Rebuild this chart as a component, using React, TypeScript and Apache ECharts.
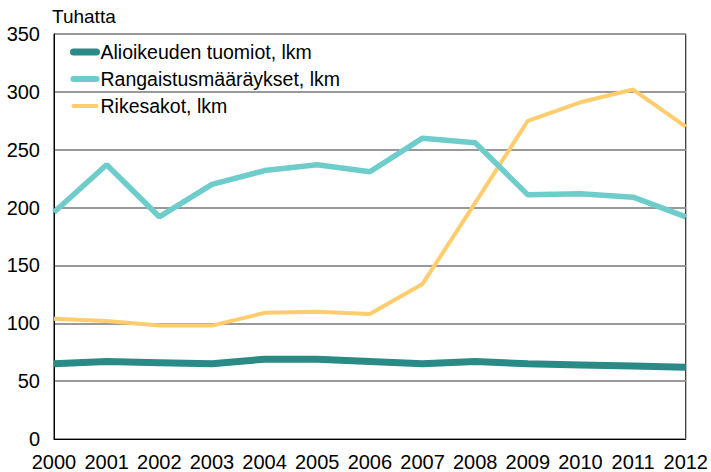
import React, { useEffect, useRef } from "react";
import * as echarts from "echarts";

const years = ["2000", "2001", "2002", "2003", "2004", "2005", "2006", "2007", "2008", "2009", "2010", "2011", "2012"];
const alioikeus = [65, 67, 66, 65, 69, 69, 67, 65, 67, 65, 64, 63, 62];
const rangaistus = [196, 237, 192, 220, 232, 237, 231, 260, 256, 211, 212, 209, 192];
const rikesakot = [104, 102, 98, 98, 109, 110, 108, 134, 204, 275, 291, 302, 270];
const seriesNames = ["Alioikeuden tuomiot, lkm", "Rangaistusmääräykset, lkm", "Rikesakot, lkm"];
const colors = ["#2A8A85", "#6ECDCB", "#FFCC6E"];
const widths = [7, 5.5, 4];
const legendWidths = [7, 6, 4];

const font = "'Liberation Sans', Arial, sans-serif";

export default function App() {
  const ref = useRef<HTMLDivElement>(null);
  useEffect(() => {
    const chart = echarts.init(ref.current!, null, { renderer: "svg" });
    const datasets = [alioikeus, rangaistus, rikesakot];
    chart.setOption({
      animation: false,
      grid: { left: 54, right: 25, top: 34, bottom: 33, show: true, borderColor: "#000", borderWidth: 1, containLabel: false },
      title: {
        text: "Tuhatta",
        left: 52,
        top: 7,
        padding: 0,
        textStyle: { fontFamily: font, fontSize: 19, fontWeight: "normal", color: "#000" },
      },
      legend: {
        orient: "vertical",
        left: 70,
        top: 42,
        padding: 0,
        itemGap: 7,
        itemWidth: 23,
        itemHeight: 14,
        textStyle: { fontFamily: font, fontSize: 19.5, color: "#000", padding: [0, 0, 0, -1] },
        data: seriesNames.map((n, i) => ({
          name: n,
          itemStyle: { opacity: 0 },
          lineStyle: { color: colors[i], width: legendWidths[i], cap: "round" },
        })),
      },
      xAxis: {
        type: "category",
        data: years,
        boundaryGap: false,
        axisLine: { lineStyle: { color: "#000", width: 1 } },
        axisTick: { show: false },
        axisLabel: { fontFamily: font, fontSize: 20, color: "#000", margin: 13, interval: 0, hideOverlap: false },
      },
      yAxis: {
        type: "value",
        min: 0,
        max: 350,
        interval: 50,
        axisLine: { show: true, lineStyle: { color: "#000", width: 1 } },
        axisTick: { show: false },
        axisLabel: { fontFamily: font, fontSize: 20, color: "#000", margin: 14 },
        splitLine: { lineStyle: { color: "#999", width: 2 } },
      },
      series: datasets.map((d, i) => ({
        name: seriesNames[i],
        type: "line",
        data: d,
        symbol: "none",
        color: colors[i],
        lineStyle: { color: colors[i], width: widths[i] },
        z: 10 - i,
      })),
    });
    return () => chart.dispose();
  }, []);
  return <div ref={ref} style={{ width: 711, height: 472, position: "absolute", left: 0, top: 0 }} />;
}
